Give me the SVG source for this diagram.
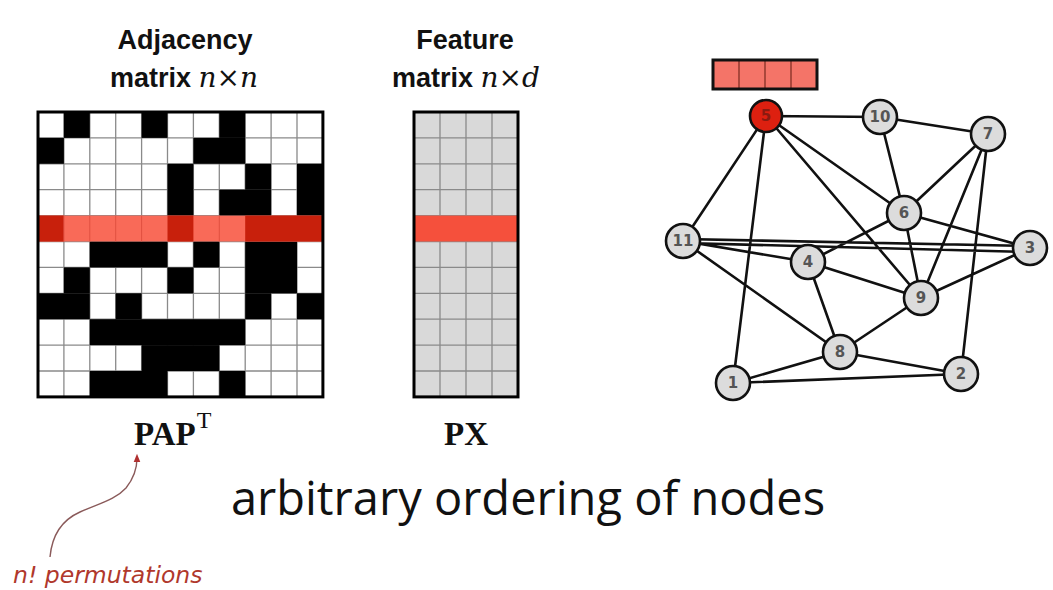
<svg xmlns="http://www.w3.org/2000/svg" width="1053" height="590" viewBox="0 0 1053 590">
<style>
.t{font-family:"Liberation Sans",Arial,sans-serif;font-weight:bold;font-size:27px;fill:#111}
.m{font-family:"DejaVu Serif",serif;font-style:italic;font-weight:normal;font-size:28px}
.f{font-family:"Liberation Serif",serif;font-weight:bold;font-size:33px;fill:#111}
.blk{fill:#000}
.grid{stroke:#8a8a8a;stroke-width:1.3;fill:none}
.edge{stroke:#111;stroke-width:2.6;fill:none}
.node{fill:#dcdcdc;stroke:#111;stroke-width:2.6}
.lbl{font-family:"DejaVu Sans",sans-serif;font-size:15px;font-weight:bold;fill:#555;text-anchor:middle}
</style>
<defs>
<marker id="ah" viewBox="0 0 10 10" refX="5" refY="5" markerWidth="6" markerHeight="6" orient="auto">
<path d="M0,1 L10,5 L0,9 z" fill="#b03030"/>
</marker>
</defs>
<rect width="1053" height="590" fill="#fff"/>

<g id="adjacency-title">
<text class="t" x="185" y="49" text-anchor="middle">Adjacency</text>
<text class="t" x="184" y="87" text-anchor="middle">matrix <tspan class="m">n×n</tspan></text>
</g>
<g id="feature-title">
<text class="t" x="465" y="49" text-anchor="middle">Feature</text>
<text class="t" x="466" y="87" text-anchor="middle">matrix <tspan class="m">n×d</tspan></text>
</g>

<g id="adjacency-matrix">
<rect x="38" y="112" width="284.9" height="284.9" fill="#fff"/>
<path class="grid" d="M63.9,112V396.9M89.8,112V396.9M115.7,112V396.9M141.6,112V396.9M167.5,112V396.9M193.4,112V396.9M219.3,112V396.9M245.2,112V396.9M271.1,112V396.9M297,112V396.9M38,137.9H322.9M38,163.8H322.9M38,189.7H322.9M38,215.6H322.9M38,241.5H322.9M38,267.4H322.9M38,293.3H322.9M38,319.2H322.9M38,345.1H322.9M38,371H322.9"/>
<rect class="blk" x="63.9" y="112" width="25.9" height="25.9"/>
<rect class="blk" x="141.6" y="112" width="25.9" height="25.9"/>
<rect class="blk" x="219.3" y="112" width="25.9" height="25.9"/>
<rect class="blk" x="38" y="137.9" width="25.9" height="25.9"/>
<rect class="blk" x="193.4" y="137.9" width="51.8" height="25.9"/>
<rect class="blk" x="167.5" y="163.8" width="25.9" height="51.8"/>
<rect class="blk" x="245.2" y="163.8" width="25.9" height="25.9"/>
<rect class="blk" x="297" y="163.8" width="25.9" height="51.8"/>
<rect class="blk" x="219.3" y="189.7" width="51.8" height="25.9"/>
<rect class="blk" x="89.8" y="241.5" width="77.7" height="25.9"/>
<rect class="blk" x="193.4" y="241.5" width="25.9" height="25.9"/>
<rect class="blk" x="245.2" y="241.5" width="51.8" height="51.8"/>
<rect class="blk" x="63.9" y="267.4" width="25.9" height="25.9"/>
<rect class="blk" x="167.5" y="267.4" width="25.9" height="25.9"/>
<rect class="blk" x="38" y="293.3" width="51.8" height="25.9"/>
<rect class="blk" x="115.7" y="293.3" width="25.9" height="25.9"/>
<rect class="blk" x="245.2" y="293.3" width="25.9" height="25.9"/>
<rect class="blk" x="297" y="293.3" width="25.9" height="25.9"/>
<rect class="blk" x="89.8" y="319.2" width="155.4" height="25.9"/>
<rect class="blk" x="141.6" y="345.1" width="77.7" height="25.9"/>
<rect class="blk" x="89.8" y="371" width="77.7" height="25.9"/>
<rect class="blk" x="219.3" y="371" width="25.9" height="25.9"/>
<rect x="38" y="215.6" width="284.9" height="25.9" fill="#f96a58"/>
<rect x="38" y="215.6" width="25.9" height="25.9" fill="#c8200c"/>
<rect x="167.5" y="215.6" width="25.9" height="25.9" fill="#c8200c"/>
<rect x="245.2" y="215.6" width="77.7" height="25.9" fill="#c8200c"/>
<path d="M63.9,215.6v25.9M89.8,215.6v25.9M115.7,215.6v25.9M141.6,215.6v25.9M219.3,215.6v25.9" stroke="#e05040" stroke-width="1" fill="none"/>
<rect x="38" y="112" width="284.9" height="284.9" fill="none" stroke="#000" stroke-width="3"/>
</g>

<g id="feature-matrix">
<rect x="414" y="112" width="104" height="284.9" fill="#d9d9d9"/>
<path class="grid" stroke="#777" d="M440,112V396.9M466,112V396.9M492,112V396.9M414,137.9H518M414,163.8H518M414,189.7H518M414,215.6H518M414,241.5H518M414,267.4H518M414,293.3H518M414,319.2H518M414,345.1H518M414,371H518"/>
<rect x="414" y="215.6" width="104" height="25.9" fill="#f5503c"/>
<rect x="414" y="112" width="104" height="284.9" fill="none" stroke="#000" stroke-width="3"/>
</g>

<g id="labels-bottom">
<text class="f" x="134" y="445">PAP<tspan font-weight="normal" font-size="24" dy="-17" dx="1">T</tspan></text>
<text class="f" x="466" y="445" text-anchor="middle">PX</text>
<text x="528" y="515" text-anchor="middle" font-family="'Open Sans',sans-serif" font-size="47" fill="#111">arbitrary ordering of nodes</text>
</g>

<g id="annotation">
<path d="M50,557 C52,535 62,520 80,512 C100,503 115,500 126,488 C134,478 137,468 137,458" fill="none" stroke="#8a5a5a" stroke-width="1.4" marker-end="url(#ah)"/>
<text x="13" y="583" font-family="'DejaVu Sans',sans-serif" font-style="italic" font-size="23.5" fill="#b0382c">n! permutations</text>
</g>

<g id="feature-vector">
<rect x="713" y="60" width="104" height="29" fill="#f47468"/>
<path d="M739,60v29M765,60v29M791,60v29" stroke="#7a2a20" stroke-width="1.2"/>
<rect x="713" y="60" width="104" height="29" fill="none" stroke="#111" stroke-width="3"/>
</g>

<g id="connectors">
<path class="edge" d="M766,116L880,117M880,117L988,134M880,117L904,213M766,116L683,241M766,116L733,383M766,116L921,298M766,116L904,213M988,134L904,213M988,134L921,298M988,134L961,374M904,213L808,262M904,213L921,298M904,213L1030,248M683,239L1030,246M683,243L1030,252M683,241L808,262M683,241L840,352M808,262L921,298M808,262L840,352M1030,248L921,298M921,298L840,352M840,352L733,383M840,352L961,374M733,383L961,374"/>
</g>

<g id="node-5"><circle class="node" cx="766" cy="116" r="16" style="fill:#dd2010"/><text class="lbl" x="766" y="121" style="fill:#8a1a10">5</text></g>
<g id="node-10"><circle class="node" cx="880" cy="117" r="17"/><text class="lbl" x="880" y="122">10</text></g>
<g id="node-7"><circle class="node" cx="988" cy="134" r="17"/><text class="lbl" x="988" y="139">7</text></g>
<g id="node-6"><circle class="node" cx="904" cy="213" r="17"/><text class="lbl" x="904" y="218">6</text></g>
<g id="node-11"><circle class="node" cx="683" cy="241" r="17"/><text class="lbl" x="683" y="246">11</text></g>
<g id="node-3"><circle class="node" cx="1030" cy="248" r="17"/><text class="lbl" x="1030" y="253">3</text></g>
<g id="node-4"><circle class="node" cx="808" cy="262" r="17"/><text class="lbl" x="808" y="267">4</text></g>
<g id="node-9"><circle class="node" cx="921" cy="298" r="17"/><text class="lbl" x="921" y="303">9</text></g>
<g id="node-8"><circle class="node" cx="840" cy="352" r="17"/><text class="lbl" x="840" y="357">8</text></g>
<g id="node-1"><circle class="node" cx="733" cy="383" r="17"/><text class="lbl" x="733" y="388">1</text></g>
<g id="node-2"><circle class="node" cx="961" cy="374" r="17"/><text class="lbl" x="961" y="379">2</text></g>
</svg>
